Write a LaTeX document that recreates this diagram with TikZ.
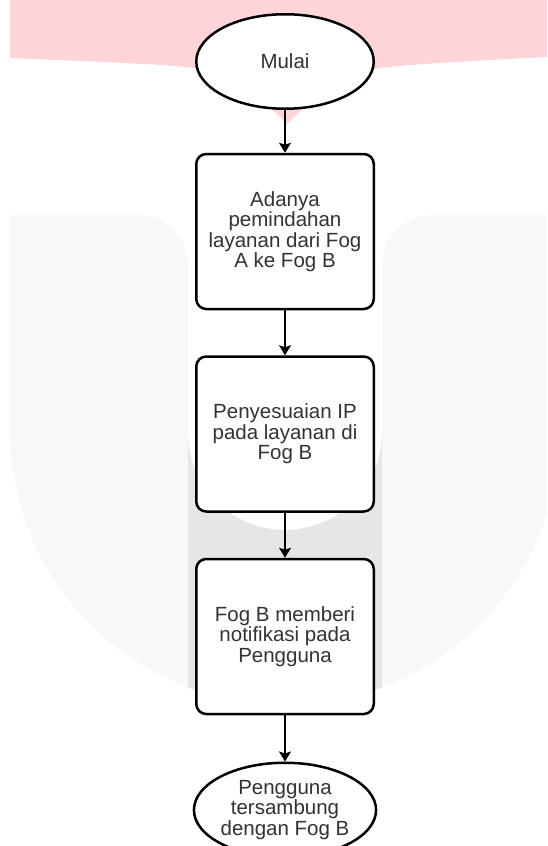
\documentclass[tikz,border=0pt]{standalone}
\usepackage{fontspec}
\setmainfont{Liberation Sans}
\usetikzlibrary{shapes.geometric,arrows.meta}

\definecolor{logopink}{HTML}{FFD5DA}
\definecolor{logogray}{HTML}{F8F8F8}
\definecolor{logoband}{HTML}{E6E6E8}
\definecolor{labeltext}{HTML}{333333}

\begin{document}
\begin{tikzpicture}[x=1pt,y=-1pt,
    terminal/.style={ellipse,draw,line width=2.5pt,fill=white,
      minimum width=177.5pt,minimum height=94.5pt,inner sep=0pt,
      align=center,text=labeltext,font=\fontsize{20.5}{20.5}\selectfont},
    process/.style={rectangle,rounded corners=10pt,draw,line width=2.5pt,fill=white,
      minimum width=177.5pt,minimum height=155pt,inner sep=0pt,
      align=center,text=labeltext,font=\fontsize{20.5}{20.5}\selectfont},
    flow/.style={-{Stealth[length=10pt,width=12pt,inset=2pt]},line width=1.5pt}]
  \useasboundingbox (0,0) rectangle (547,846);
  \clip (0,0) rectangle (547,846);
  % Watermark (pink top)
  \fill[logopink] (10,0) -- (547,0) -- (547,57)
    .. controls (380,66) .. (334,78) -- (287,124) -- (240,78)
    .. controls (200,66) .. (10,58) -- cycle;
  % Watermark (gray U)
  \fill[logogray] (10,215) -- (138,215) arc[start angle=-90,end angle=0,radius=50]
    -- (188,433) arc[start angle=180,end angle=0,radius=97]
    -- (382,265) arc[start angle=180,end angle=270,radius=50]
    -- (560,215) -- (560,430) arc[start angle=0,end angle=180,radius=275] -- cycle;
  \begin{scope}
    \clip (188,0) rectangle (382,846);
    \fill[logoband] (188,433) arc[start angle=180,end angle=0,radius=97]
      -- (560,430) arc[start angle=0,end angle=180,radius=275] -- cycle;
  \end{scope}
  % Steps
  \node[terminal] (mulai) at (285,61.5) {Mulai};
  \node[process] (pindah) at (285,231.5) {Adanya\\pemindahan\\layanan dari Fog\\A ke Fog B};
  \node[process] (sesuai) at (285,434) {Penyesuaian IP\\pada layanan di\\Fog B};
  \node[process] (notif) at (285,636.5) {Fog B memberi\\notifikasi pada\\Pengguna};
  \node[terminal] (sambung) at (285,810) {Pengguna\\tersambung\\dengan Fog B};
  % Arrows
  \draw[flow] (mulai) -- (pindah);
  \draw[flow] (pindah) -- (sesuai);
  \draw[flow] (sesuai) -- (notif);
  \draw[flow] (notif) -- (sambung);
\end{tikzpicture}
\end{document}
